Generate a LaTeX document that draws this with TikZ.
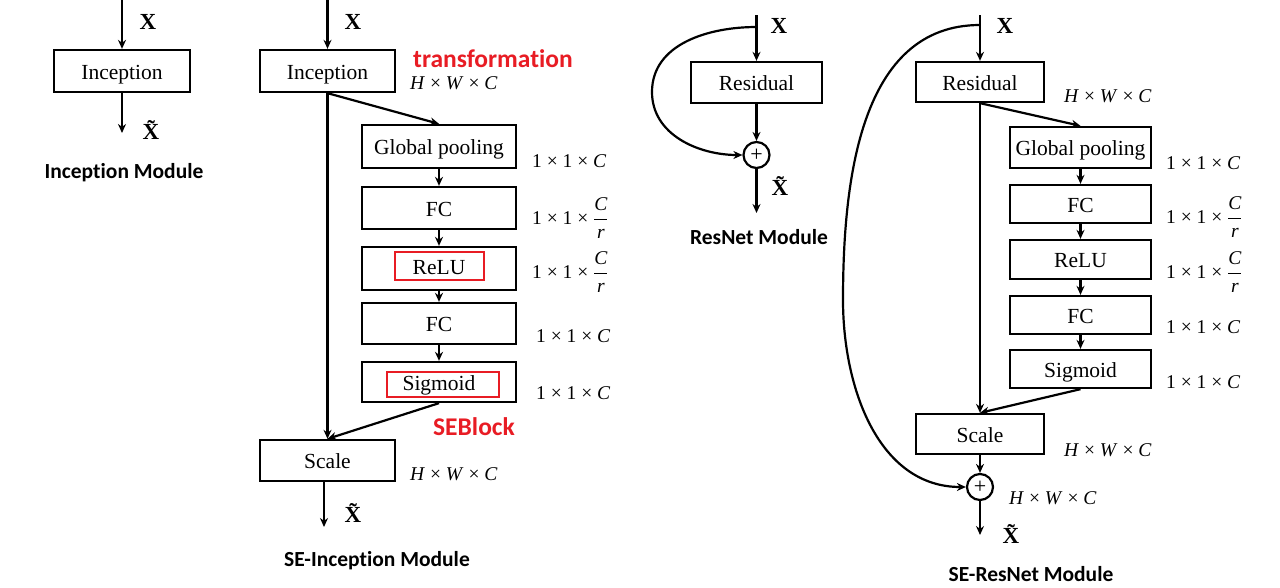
\documentclass[tikz,border=0pt]{standalone}
\usepackage{amsmath}
\usepackage{fontspec}
\setmainfont{Liberation Serif}
\newfontfamily\lblfont[Ligatures=NoCommon]{Carlito}
\usetikzlibrary{arrows.meta}
\definecolor{seRed}{RGB}{232,28,36}
\begin{document}
\begin{tikzpicture}[x=1pt,y=-1pt,
 blk/.style={draw, line width=2.3pt, inner sep=0pt, text height=16pt, text depth=0pt, font=\fontsize{21.5}{23}\selectfont},
 arr/.style={line width=2.2pt, -{Stealth[length=9pt,width=8pt]}},
 xl/.style={font=\fontsize{23}{25}\selectfont\bfseries},
 dim/.style={font=\fontsize{19.5}{21}\selectfont, anchor=west, inner sep=0pt},
 ttl/.style={font=\lblfont\bfseries\fontsize{21.5}{23}\selectfont},
 redlbl/.style={text=seRed, font=\lblfont\bfseries\fontsize{25.5}{27}\selectfont},
 redbox/.style={draw=seRed, line width=2.3pt, inner sep=0pt},
 plus/.style={circle, draw, line width=2.2pt, minimum size=26pt, inner sep=0pt, font=\fontsize{22}{22}\selectfont}
]
\useasboundingbox (0,0) rectangle (1280,587);

% ---------- Inception Module ----------
\coordinate (i1in) at (122,0);
\coordinate (i1out) at (122,133);
\node[blk, minimum width=136pt, minimum height=42pt] (inc1) at (122,71) {Inception};
\draw[arr] (i1in) -- (inc1);
\draw[arr] (inc1) -- (i1out);
\node[xl] (x1) at (148,22) {X};
\node[xl] (xt1) at (151,130) {\~X};
\node[ttl] (t1) at (124,173) {Inception Module};

% ---------- SE-Inception Module ----------
\coordinate (i2in) at (327.5,0);
\node[blk, minimum width=135pt, minimum height=42pt] (inc2) at (327.5,71) {Inception};
\node[blk, minimum width=154pt, minimum height=43pt] (gp2) at (439,146.5) {Global pooling};
\node[blk, minimum width=154pt, minimum height=42pt] (fc2a) at (439,208) {FC};
\node[blk, minimum width=154pt, minimum height=43pt] (relu2) at (439,268.5) {};
\node[redbox, minimum width=89pt, minimum height=28pt] (relu2r) at (439.5,266) {};
\node[font=\fontsize{21.5}{23}\selectfont, text height=16pt, text depth=0pt] (relu2t) at (439,266) {ReLU};
\node[blk, minimum width=154pt, minimum height=41pt] (fc2b) at (439,323.5) {FC};
\node[blk, minimum width=154pt, minimum height=40pt] (sig2) at (439,382) {};
\node[redbox, minimum width=112pt, minimum height=25pt] (sig2r) at (443,384.5) {};
\node[font=\fontsize{21.5}{23}\selectfont, text height=16pt, text depth=0pt] (sig2t) at (439,382) {Sigmoid};
\node[blk, minimum width=135pt, minimum height=41pt] (sc2) at (327.5,460.5) {Scale};
\coordinate (i2out) at (324,527);
\draw[arr] (i2in) -- (inc2);
\draw[arr] (inc2.south) -- (gp2.north);
\draw[arr] (inc2.south) -- (sc2.north);
\draw[arr] (gp2) -- (fc2a);
\draw[arr] (fc2a) -- (relu2);
\draw[arr] (relu2) -- (fc2b);
\draw[arr] (fc2b) -- (sig2);
\draw[arr] (sig2.south) -- (sc2.north);
\draw[arr] (sc2.south -| i2out) -- (i2out);
\node[xl] (x2) at (353,22) {X};
\node[xl] (xt2) at (353,513) {\~X};
\node[redlbl] (tr2) at (493,59) {transformation};
\node[redlbl] (se2) at (474,427) {SEBlock};
\node[dim] (d2a) at (410,83) {\textit{H} × \textit{W} × \textit{C}};
\node[dim] (d2b) at (532,161) {1 × 1 × \textit{C}};
\node[dim] (d2c) at (532,218) {1 × 1 × $\dfrac{\textit{C}}{\textit{r}}$};
\node[dim] (d2d) at (532,272) {1 × 1 × $\dfrac{\textit{C}}{\textit{r}}$};
\node[dim] (d2e) at (536,336) {1 × 1 × \textit{C}};
\node[dim] (d2f) at (536,393) {1 × 1 × \textit{C}};
\node[dim] (d2g) at (410,474) {\textit{H} × \textit{W} × \textit{C}};
\node[ttl] (t2) at (377,561) {SE-Inception Module};

% ---------- ResNet Module ----------
\coordinate (r3in) at (756.5,15);
\coordinate (r3split) at (756.5,27);
\coordinate (r3left) at (652,92);
\node[blk, minimum width=131pt, minimum height=41pt] (res3) at (756.5,82.5) {Residual};
\node[plus] (add3) at (756.5,155) {+};
\coordinate (r3out) at (756.5,213);
\draw[arr] (r3in) -- (res3);
\draw[arr] (res3) -- (add3);
\draw[arr] (add3) -- (r3out);
\draw[arr] (r3split) to[out=180,in=90] (r3left) to[out=-90,in=180] (add3.west);
\node[xl] (x3) at (779,26) {X};
\node[xl] (xt3) at (780,186) {\~X};
\node[ttl] (t3) at (759,237) {ResNet Module};

% ---------- SE-ResNet Module ----------
\coordinate (r4in) at (980,15);
\coordinate (r4split) at (980,25);
\coordinate (r4left) at (843,300);
\node[blk, minimum width=128pt, minimum height=40pt] (res4) at (980,82) {Residual};
\node[blk, minimum width=141pt, minimum height=41pt] (gp4) at (1080.5,147.5) {Global pooling};
\node[blk, minimum width=141pt, minimum height=38pt] (fc4a) at (1080.5,204) {FC};
\node[blk, minimum width=141pt, minimum height=39pt] (relu4) at (1080.5,259.5) {ReLU};
\node[blk, minimum width=141pt, minimum height=38pt] (fc4b) at (1080.5,315) {FC};
\node[blk, minimum width=141pt, minimum height=38pt] (sig4) at (1080.5,369) {Sigmoid};
\node[blk, minimum width=128pt, minimum height=40pt] (sc4) at (980,434) {Scale};
\node[plus] (add4) at (980,487) {+};
\coordinate (r4out) at (980,535);
\draw[arr] (r4in) -- (res4);
\draw[arr] (res4.south) -- (gp4.north);
\draw[arr] (res4.south) -- (sc4.north);
\draw[arr] (gp4) -- (fc4a);
\draw[arr] (fc4a) -- (relu4);
\draw[arr] (relu4) -- (fc4b);
\draw[arr] (fc4b) -- (sig4);
\draw[arr] (sig4.south) -- (sc4.north);
\draw[arr] (sc4) -- (add4);
\draw[arr] (add4) -- (r4out);
\draw[arr] (r4split) to[out=180,in=90] (r4left) to[out=-90,in=180] (add4.west);
\node[xl] (x4) at (1005,26) {X};
\node[xl] (xt4) at (1011,534) {\~X};
\node[dim] (d4a) at (1064,96) {\textit{H} × \textit{W} × \textit{C}};
\node[dim] (d4b) at (1166,163) {1 × 1 × \textit{C}};
\node[dim] (d4c) at (1166,217) {1 × 1 × $\dfrac{\textit{C}}{\textit{r}}$};
\node[dim] (d4d) at (1166,272) {1 × 1 × $\dfrac{\textit{C}}{\textit{r}}$};
\node[dim] (d4e) at (1166,327) {1 × 1 × \textit{C}};
\node[dim] (d4f) at (1166,382) {1 × 1 × \textit{C}};
\node[dim] (d4g) at (1064,450) {\textit{H} × \textit{W} × \textit{C}};
\node[dim] (d4h) at (1009,498) {\textit{H} × \textit{W} × \textit{C}};
\node[ttl] (t4) at (1031,574) {SE-ResNet Module};
\end{tikzpicture}
\end{document}
